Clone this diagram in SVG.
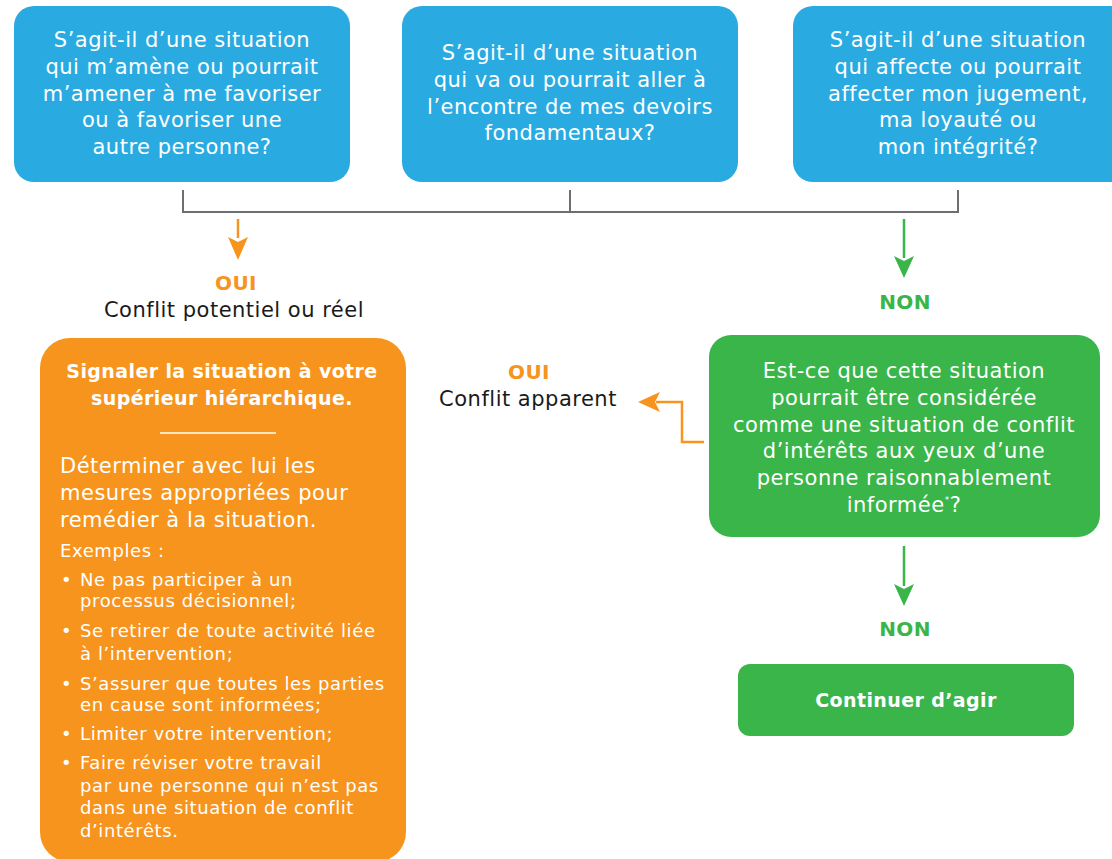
<svg xmlns="http://www.w3.org/2000/svg" width="1112" height="859" viewBox="0 0 1112 859">
<defs>
<style>
.t{font-family:"DejaVu Sans","Liberation Sans",sans-serif;}
.w{fill:#ffffff;font-size:21px;letter-spacing:0.5px;}
.c{text-anchor:middle;}
.b{font-weight:bold;font-size:19px;letter-spacing:0.4px;}
.lb{font-weight:bold;font-size:20px;letter-spacing:0.4px;}
.k{fill:#1a1a1a;font-size:21px;letter-spacing:0.5px;}
.li{fill:#ffffff;font-size:18px;letter-spacing:0.6px;}
.blue{fill:#29abe2;}
.orange{fill:#f7941d;}
.green{fill:#39b54a;}
</style>
</defs>
<rect width="1112" height="859" fill="#ffffff"/>

<g id="q1">
<rect class="blue" x="14" y="6" width="336" height="176" rx="20"/>
<text class="t w c" x="182" y="47">S’agit-il d’une situation</text>
<text class="t w c" x="182" y="74">qui m’amène ou pourrait</text>
<text class="t w c" x="182" y="101">m’amener à me favoriser</text>
<text class="t w c" x="182" y="127">ou à favoriser une</text>
<text class="t w c" x="182" y="154">autre personne?</text>
</g>

<g id="q2">
<rect class="blue" x="402" y="6" width="336" height="176" rx="20"/>
<text class="t w c" x="570" y="60">S’agit-il d’une situation</text>
<text class="t w c" x="570" y="87">qui va ou pourrait aller à</text>
<text class="t w c" x="570" y="114">l’encontre de mes devoirs</text>
<text class="t w c" x="570" y="140">fondamentaux?</text>
</g>

<g id="q3">
<rect class="blue" x="793" y="6" width="345" height="176" rx="20"/>
<text class="t w c" x="958" y="47">S’agit-il d’une situation</text>
<text class="t w c" x="958" y="74">qui affecte ou pourrait</text>
<text class="t w c" x="958" y="101">affecter mon jugement,</text>
<text class="t w c" x="958" y="127">ma loyauté ou</text>
<text class="t w c" x="958" y="154">mon intégrité?</text>
</g>

<g id="connectors" fill="none">
<path d="M183,190 V212 H958 V190 M570,190 V212" stroke="#6d6e71" stroke-width="2"/>
<path d="M238,219 V238" stroke="#f7941d" stroke-width="2.5"/>
<path d="M228,237 L238,242 L248,237 L238,260 Z" fill="#f7941d"/>
<path d="M904,219 V258" stroke="#39b54a" stroke-width="2.5"/>
<path d="M894,256 L904,261 L914,256 L904,278 Z" fill="#39b54a"/>
<path d="M704,442 H682 V402 H656" stroke="#f7941d" stroke-width="2.5"/>
<path d="M660,392 L655,402 L660,412 L638,402 Z" fill="#f7941d"/>
<path d="M904,546 V586" stroke="#39b54a" stroke-width="2.5"/>
<path d="M894,584 L904,589 L914,584 L904,606 Z" fill="#39b54a"/>
</g>

<g id="lbl-oui1">
<text class="t lb c" x="236" y="290" fill="#f7941d">OUI</text>
<text class="t k c" x="234" y="317">Conflit potentiel ou réel</text>
</g>

<g id="lbl-non1">
<text class="t lb c" x="905" y="309" fill="#39b54a">NON</text>
</g>

<g id="action">
<rect class="orange" x="40" y="338" width="366" height="524" rx="30"/>
<text class="t b c" x="222" y="378" fill="#ffffff">Signaler la situation à votre</text>
<text class="t b c" x="222" y="405" fill="#ffffff">supérieur hiérarchique.</text>
<line x1="160" y1="433" x2="276" y2="433" stroke="#ffffff" stroke-width="1.5"/>
<text class="t w" x="60" y="473">Déterminer avec lui les</text>
<text class="t w" x="60" y="500">mesures appropriées pour</text>
<text class="t w" x="60" y="527">remédier à la situation.</text>
<text class="t li" x="60" y="557">Exemples :</text>
<text class="t li" x="61" y="586">•</text>
<text class="t li" x="80" y="586">Ne pas participer à un</text>
<text class="t li" x="80" y="607">processus décisionnel;</text>
<text class="t li" x="61" y="637">•</text>
<text class="t li" x="80" y="637">Se retirer de toute activité liée</text>
<text class="t li" x="80" y="660">à l’intervention;</text>
<text class="t li" x="61" y="690">•</text>
<text class="t li" x="80" y="690">S’assurer que toutes les parties</text>
<text class="t li" x="80" y="711">en cause sont informées;</text>
<text class="t li" x="61" y="740">•</text>
<text class="t li" x="80" y="740">Limiter votre intervention;</text>
<text class="t li" x="61" y="769">•</text>
<text class="t li" x="80" y="769">Faire réviser votre travail</text>
<text class="t li" x="80" y="792">par une personne qui n’est pas</text>
<text class="t li" x="80" y="814">dans une situation de conflit</text>
<text class="t li" x="80" y="837">d’intérêts.</text>
</g>

<g id="lbl-oui2">
<text class="t lb c" x="529" y="379" fill="#f7941d">OUI</text>
<text class="t k c" x="528" y="406">Conflit apparent</text>
</g>

<g id="q4">
<rect class="green" x="709" y="335" width="391" height="202" rx="22"/>
<text class="t w c" x="904" y="378">Est-ce que cette situation</text>
<text class="t w c" x="904" y="405">pourrait être considérée</text>
<text class="t w c" x="904" y="432">comme une situation de conflit</text>
<text class="t w c" x="904" y="458">d’intérêts aux yeux d’une</text>
<text class="t w c" x="904" y="485">personne raisonnablement</text>
<text class="t w c" x="904" y="512">informée<tspan font-size="9" dy="-9">*</tspan><tspan dy="9">?</tspan></text>
</g>

<g id="lbl-non2">
<text class="t lb c" x="905" y="636" fill="#39b54a">NON</text>
</g>

<g id="continue">
<rect class="green" x="738" y="664" width="336" height="72" rx="12"/>
<text class="t b c" x="906" y="707" fill="#ffffff">Continuer d’agir</text>
</g>
</svg>
